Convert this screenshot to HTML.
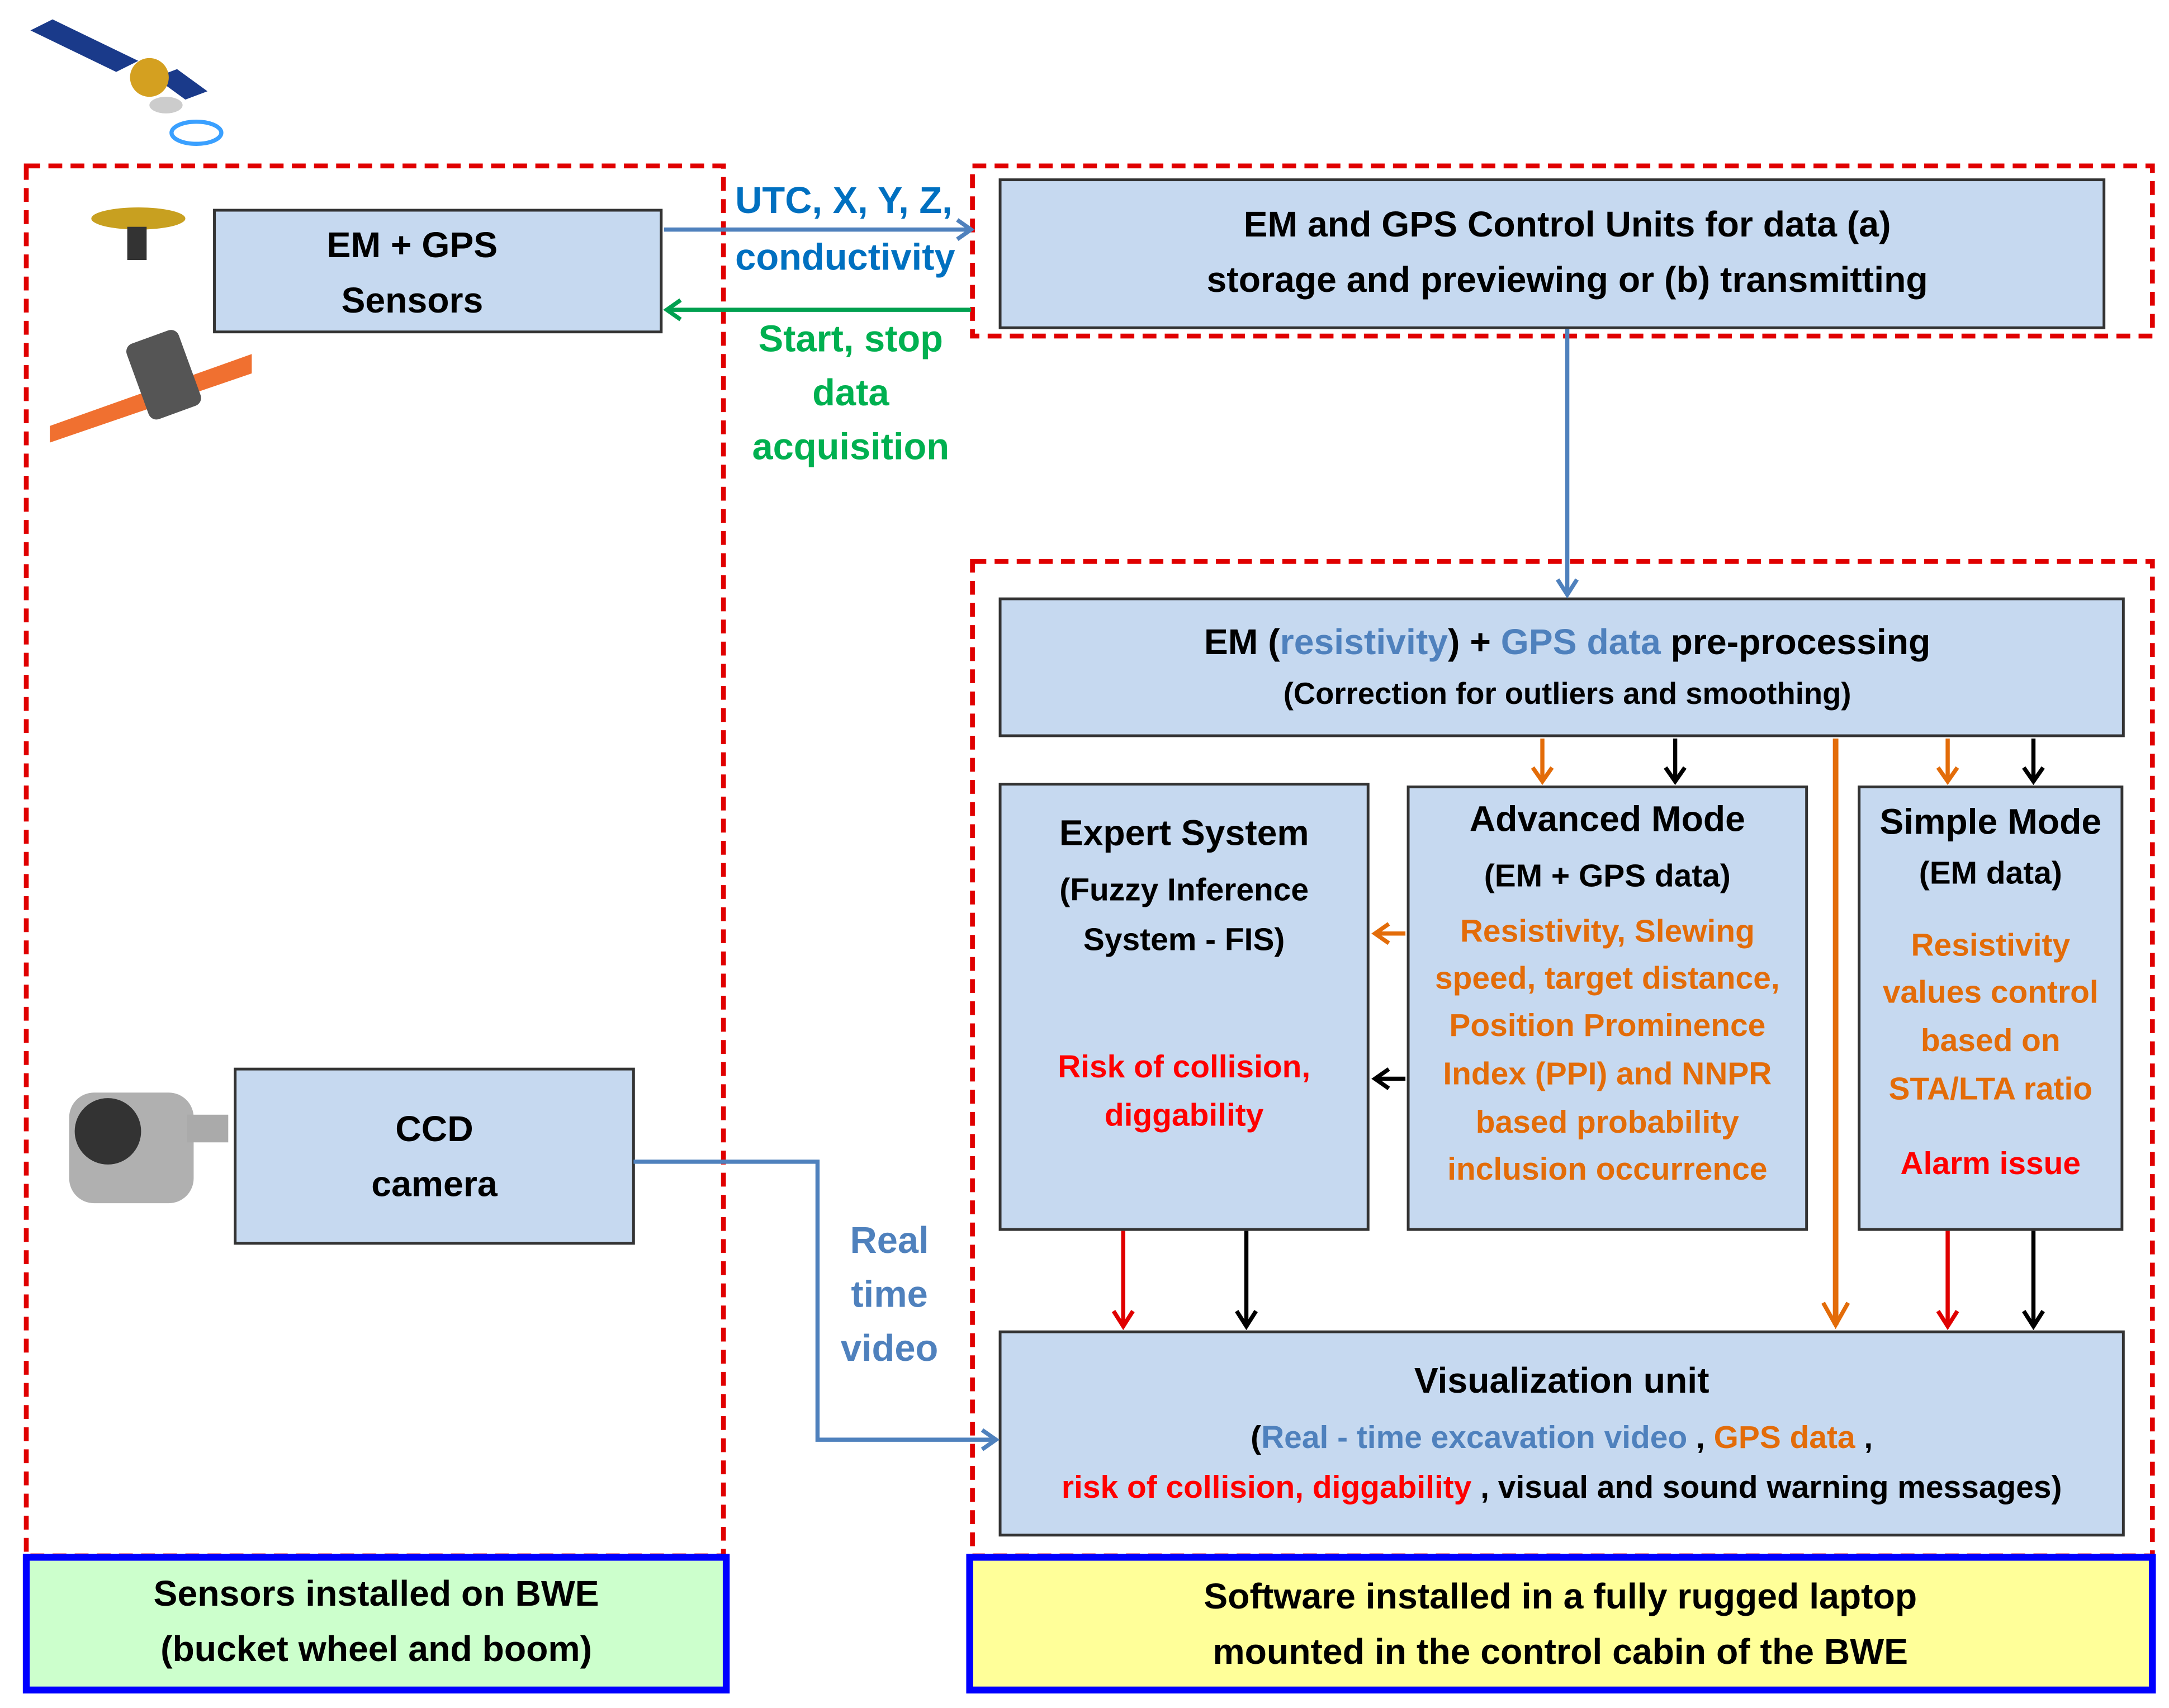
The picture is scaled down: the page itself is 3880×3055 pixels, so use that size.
<!DOCTYPE html>
<html><head><meta charset="utf-8"><style>
html,body{margin:0;padding:0;background:#fff;}
svg{display:block;}
text{font-family:"Liberation Sans",sans-serif;font-weight:bold;}
</style></head><body>
<svg width="3880" height="3055" viewBox="0 0 1568 1235" preserveAspectRatio="none" xmlns="http://www.w3.org/2000/svg">
<rect width="1568" height="1235" fill="#fff"/>
<!-- red dashed areas -->
<g fill="none" stroke="#e00000" stroke-width="3.5" stroke-dasharray="10,6">
<rect x="19" y="120" width="504" height="1005"/>
<rect x="703" y="120" width="853" height="123"/>
<rect x="703" y="406" width="853" height="719"/>
</g>
<!-- bottom labels -->
<rect x="19" y="1126" width="506" height="96" fill="#ccffcc" stroke="#0000ff" stroke-width="5"/>
<rect x="701" y="1126" width="855" height="96" fill="#ffff99" stroke="#0000ff" stroke-width="5"/>
<g font-size="26" text-anchor="middle" fill="#000">
<text x="272" y="1161">Sensors installed on BWE</text>
<text x="272" y="1201">(bucket wheel and boom)</text>
<text x="1128" y="1163">Software installed in a fully rugged laptop</text>
<text x="1128" y="1203">mounted in the control cabin of the BWE</text>
</g>
<!-- boxes -->
<g fill="#c6d9f0" stroke="#333" stroke-width="2">
<rect x="155" y="152" width="323" height="88"/>
<rect x="723" y="130" width="798" height="107"/>
<rect x="723" y="433" width="812" height="99"/>
<rect x="723" y="567" width="266" height="322"/>
<rect x="1018" y="569" width="288" height="320"/>
<rect x="1344" y="569" width="190" height="320"/>
<rect x="723" y="963" width="812" height="147"/>
<rect x="170" y="773" width="288" height="126"/>
</g>
<g font-size="26" text-anchor="middle" fill="#000">
<text x="298" y="186">EM + GPS</text>
<text x="298" y="226">Sensors</text>
<text x="1133" y="171">EM and GPS Control Units for data (a)</text>
<text x="1133" y="211">storage and previewing or (b) transmitting</text>
<text x="1133" y="473">EM (<tspan fill="#4f81bd">resistivity</tspan>) + <tspan fill="#4f81bd">GPS data</tspan> pre-processing</text>
<text x="1133" y="509" font-size="22">(Correction for outliers and smoothing)</text>
<text x="856" y="611">Expert System</text>
<text x="856" y="651" font-size="23">(Fuzzy Inference</text>
<text x="856" y="687" font-size="23">System - FIS)</text>
<text x="856" y="779" font-size="23" fill="#ff0000">Risk of collision,</text>
<text x="856" y="814" font-size="23" fill="#ff0000">diggability</text>
<text x="1162" y="601">Advanced Mode</text>
<text x="1162" y="641" font-size="23">(EM + GPS data)</text>
<g font-size="23" fill="#e36c09">
<text x="1162" y="681">Resistivity, Slewing</text>
<text x="1162" y="715">speed, target distance,</text>
<text x="1162" y="749">Position Prominence</text>
<text x="1162" y="784">Index (PPI) and NNPR</text>
<text x="1162" y="819">based probability</text>
<text x="1162" y="853">inclusion occurrence</text>
<text x="1439" y="691">Resistivity</text>
<text x="1439" y="725">values control</text>
<text x="1439" y="760">based on</text>
<text x="1439" y="795">STA/LTA ratio</text>
</g>
<text x="1439" y="603">Simple Mode</text>
<text x="1439" y="639" font-size="23">(EM data)</text>
<text x="1439" y="849" font-size="23" fill="#ff0000">Alarm issue</text>
<text x="1129" y="1007">Visualization unit</text>
<text x="1129" y="1047" font-size="23">(<tspan fill="#4f81bd">Real - time excavation video</tspan> , <tspan fill="#e36c09">GPS data</tspan> ,</text>
<text x="1129" y="1083" font-size="23"><tspan fill="#ff0000">risk of collision, diggability</tspan> , visual and sound warning messages)</text>
<text x="314" y="825">CCD</text>
<text x="314" y="865">camera</text>
<g fill="#0070c0" font-size="27">
<text x="610" y="154">UTC, X, Y, Z,</text>
<text x="611" y="195">conductivity</text>
</g>
<g fill="#00b050" font-size="27">
<text x="615" y="254">Start, stop</text>
<text x="615" y="293">data</text>
<text x="615" y="332">acquisition</text>
</g>
<g fill="#4f81bd" font-size="27">
<text x="643" y="906">Real</text>
<text x="643" y="945">time</text>
<text x="643" y="984">video</text>
</g>
</g>
<!-- connectors -->
<g fill="none" stroke-width="3">
<g stroke="#4f81bd">
<line x1="480" y1="166" x2="702" y2="166"/><polyline points="692,159 702,166 692,173"/>
<line x1="1133" y1="238" x2="1133" y2="430"/><polyline points="1126,419 1133,430 1140,419"/>
<polyline points="458,840 591,840 591,1041 720,1041"/><polyline points="710,1034 720,1041 710,1048"/>
</g>
<g stroke="#00a050">
<line x1="702" y1="224" x2="482" y2="224"/><polyline points="492,217 482,224 492,231"/>
</g>
<g stroke="#e36c09">
<line x1="1115" y1="534" x2="1115" y2="565"/><polyline points="1108,555 1115,565 1122,555"/>
<line x1="1408" y1="534" x2="1408" y2="565"/><polyline points="1401,555 1408,565 1415,555"/>
<line x1="1327" y1="534" x2="1327" y2="958" stroke-width="4"/><polyline points="1318,942 1327,958 1336,942"/>
<line x1="1016" y1="675" x2="994" y2="675"/><polyline points="1004,668 994,675 1004,682"/>
</g>
<g stroke="#000">
<line x1="1211" y1="534" x2="1211" y2="565"/><polyline points="1204,555 1211,565 1218,555"/>
<line x1="1470" y1="534" x2="1470" y2="565"/><polyline points="1463,555 1470,565 1477,555"/>
<line x1="901" y1="890" x2="901" y2="959"/><polyline points="894,948 901,959 908,948"/>
<line x1="1470" y1="890" x2="1470" y2="959"/><polyline points="1463,948 1470,959 1477,948"/>
<line x1="1016" y1="780" x2="994" y2="780"/><polyline points="1004,773 994,780 1004,787"/>
</g>
<g stroke="#e00000">
<line x1="812" y1="890" x2="812" y2="959"/><polyline points="805,948 812,959 819,948"/>
<line x1="1408" y1="890" x2="1408" y2="959"/><polyline points="1401,948 1408,959 1415,948"/>
</g>
</g>
<!-- icons -->
<g>
<polygon points="22,22 38,14 100,44 84,52" fill="#1a3a8a"/>
<polygon points="112,56 128,50 150,66 134,72" fill="#1a3a8a"/>
<circle cx="108" cy="56" r="14" fill="#d4a020"/>
<ellipse cx="120" cy="76" rx="12" ry="6" fill="#ccc"/>
<ellipse cx="142" cy="96" rx="18" ry="8" fill="none" stroke="#3aa0ff" stroke-width="3"/>
<ellipse cx="100" cy="158" rx="34" ry="8" fill="#c8a020"/>
<rect x="92" y="164" width="14" height="24" fill="#333"/>
<polygon points="36,308 182,256 182,270 36,320" fill="#f07030"/>
<rect x="98" y="242" width="40" height="58" rx="6" fill="#555" transform="rotate(-20 118 270)"/>
<rect x="50" y="790" width="90" height="80" rx="18" fill="#b0b0b0"/>
<circle cx="78" cy="818" r="24" fill="#333"/>
<rect x="135" y="806" width="30" height="20" fill="#aaa"/>
</g>
</svg>
</body></html>
